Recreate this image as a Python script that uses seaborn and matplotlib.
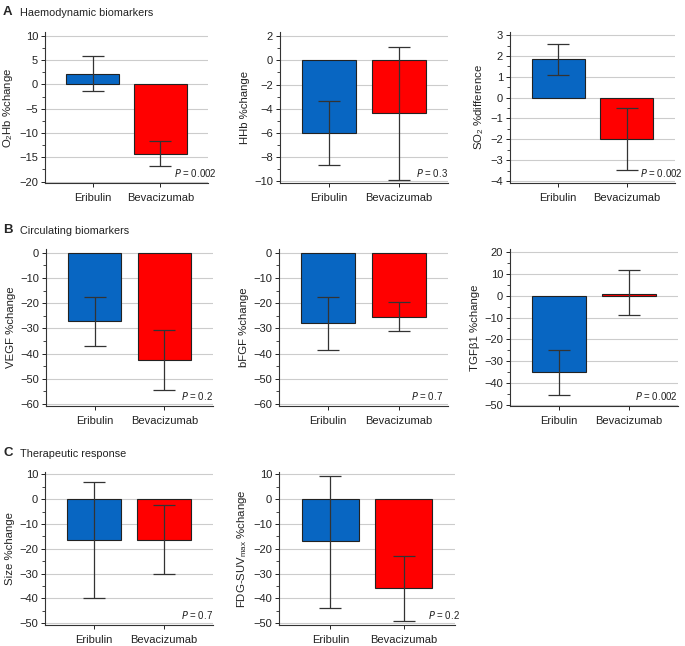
import numpy as np
import matplotlib
matplotlib.use("Agg")
import matplotlib.pyplot as plt
import seaborn as sns
from matplotlib.ticker import AutoMinorLocator

sns.set_style("white")
plt.rcParams['font.family'] = ['Liberation Sans', 'DejaVu Sans']
plt.rcParams['mathtext.default'] = 'regular'

groups = ["Eribulin", "Bevacizumab"]
colors = ["#0866c2", "#ff0000"]

# panel data: means, error bar upper, error bar lower
o2hb = [2.2, -14.3];   o2hb_hi = [5.9, -11.7];   o2hb_lo = [-1.3, -16.8]
hhb = [-6.0, -4.35];   hhb_hi = [-3.35, 1.1];    hhb_lo = [-8.7, -9.9]
so2 = [1.83, -1.97];   so2_hi = [2.58, -0.52];   so2_lo = [1.08, -3.47]
vegf = [-27.0, -42.5]; vegf_hi = [-17.5, -30.5]; vegf_lo = [-37.0, -54.5]
bfgf = [-28.0, -25.5]; bfgf_hi = [-17.7, -19.7]; bfgf_lo = [-38.5, -31.2]
tgfb = [-35.0, 1.0];   tgfb_hi = [-25.0, 11.7];  tgfb_lo = [-45.5, -8.8]
size = [-16.5, -16.3]; size_hi = [7.0, -2.3];    size_lo = [-40.0, -30.0]
fdg = [-17.0, -35.7];  fdg_hi = [9.5, -23.0];    fdg_lo = [-44.0, -49.2]
pvals = ["0.002", "0.3", "0.002", "0.2", "0.7", "0.002", "0.7", "0.2"]

panels = [
    # (values, hi, lo, ylabel, yticks, ylim, rect px: left, top, right, bottom, P text right edge px)
    (o2hb, o2hb_hi, o2hb_lo, "O$_2$Hb %change", np.arange(-20, 11, 5), (-20.3, 10.8), (45, 32, 208, 183), 217),
    (hhb, hhb_hi, hhb_lo, "HHb %change", np.arange(-10, 3, 2), (-10.15, 2.35), (280, 32, 448, 183), 448),
    (so2, so2_hi, so2_lo, "SO$_2$ %difference", np.arange(-4, 4, 1), (-4.1, 3.15), (510, 32, 675, 183), 683),
    (vegf, vegf_hi, vegf_lo, "VEGF %change", np.arange(-60, 1, 10), (-60.8, 1.5), (46, 249, 213, 406), 213),
    (bfgf, bfgf_hi, bfgf_lo, "bFGF %change", np.arange(-60, 1, 10), (-60.8, 1.5), (279, 249, 448, 406), 443),
    (tgfb, tgfb_hi, tgfb_lo, "TGF\u03b21 %change", np.arange(-50, 21, 10), (-50.6, 21.5), (510, 249, 678, 406), 678),
    (size, size_hi, size_lo, "Size %change", np.arange(-50, 11, 10), (-50.8, 11.0), (45, 472, 213, 625), 213),
    (fdg, fdg_hi, fdg_lo, "FDG-SUV$_{max}$ %change", np.arange(-50, 11, 10), (-50.8, 11.0), (279, 472, 455, 625), 460),
]

W, H = 685, 646
fig = plt.figure(figsize=(W / 100, H / 100), dpi=100)

for (vals, hi, lo, ylabel, yticks, ylim, (l, t, r, b), pr), pval in zip(panels, pvals):
    ax = fig.add_axes([l / W, 1 - b / H, (r - l) / W, (b - t) / H])
    ax.set_axisbelow(True)
    ax.grid(True, color="#cccccc", linewidth=0.8)
    sns.barplot(x=groups, y=vals, hue=groups, palette=colors, saturation=1, legend=False,
                edgecolor="#222222", linewidth=0.8, width=0.77, ax=ax)
    yerr = [np.array(vals) - np.array(lo), np.array(hi) - np.array(vals)]
    ax.errorbar([0, 1], vals, yerr=yerr, fmt="none", ecolor="#333333",
                elinewidth=0.9, capsize=8, capthick=0.9)
    ax.set_xlim(-0.7, 1.7)
    ax.set_ylim(*ylim)
    ax.set_yticks(yticks)
    ax.set_yticklabels([f"{v:g}".replace("-", "\u2212") for v in yticks])
    ax.yaxis.set_minor_locator(AutoMinorLocator(2))
    for s in ["top", "right"]:
        ax.spines[s].set_visible(False)
    for s in ["left", "bottom"]:
        ax.spines[s].set_color("#333333")
        ax.spines[s].set_linewidth(0.8)
    ax.tick_params(axis="both", which="major", direction="out", length=3, width=0.7,
                   labelsize=8, colors="#222222", left=True, bottom=True, pad=2)
    ax.tick_params(axis="x", which="major", pad=4)
    ax.tick_params(axis="y", which="minor", direction="out", length=2, width=0.6, left=True)
    ax.set_xlabel("")
    ax.set_ylabel(ylabel, fontsize=8.2, color="#222222", labelpad=3)
    fig.text(pr / W, 1 - (b - 10) / H, "$\\it{P}$ = " + pval,
             ha="right", va="center", fontsize=7, color="#222222")

for letter, title, y in [("A", "Haemodynamic biomarkers", 12),
                         ("B", "Circulating biomarkers", 230),
                         ("C", "Therapeutic response", 453)]:
    fig.text(3 / W, 1 - y / H, letter, fontsize=9.5, fontweight="bold", va="center", ha="left")
    fig.text(20 / W, 1 - (y + 1) / H, title, fontsize=7.8, va="center", ha="left", color="#222222")

fig.savefig("out.png", dpi=100)
